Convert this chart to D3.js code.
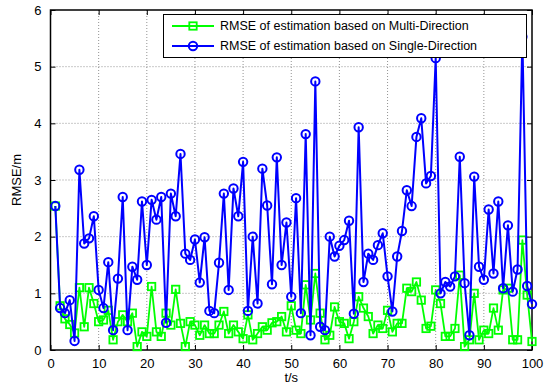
<!DOCTYPE html>
<html>
<head>
<meta charset="utf-8">
<script src="https://cdn.jsdelivr.net/npm/d3@7"></script>
<style>
  body { margin: 0; background: #fff; }
  text { font-family: "Liberation Sans", Arial, sans-serif; }
</style>
</head>
<body>
<div id="rmseContainer"></div>
<script>

// time axis (s)
var timeSteps = d3.range(1, 101);

// RMSE of estimation based on Single-Direction (blue, circles)
var singleDirRmse = [
  2.54, 0.74, 0.65, 0.88, 0.16, 3.18, 1.88, 1.97, 2.36, 1.06,
  0.74, 1.55, 0.35, 1.26, 2.70, 0.35, 1.47, 1.24, 2.62, 1.50,
  2.65, 2.30, 2.70, 0.48, 2.76, 2.36, 3.46, 1.70, 1.59, 1.95,
  1.19, 1.99, 0.69, 0.65, 1.54, 2.76, 1.06, 2.85, 2.36, 3.32,
  0.69, 2.00, 0.82, 3.20, 2.55, 1.16, 3.40, 1.50, 2.25, 0.94,
  2.68, 0.65, 3.81, 0.26, 4.74, 0.41, 0.35, 2.00, 1.65, 1.84,
  1.94, 2.28, 0.64, 3.93, 1.20, 1.70, 1.59, 1.85, 2.06, 1.30,
  0.68, 1.65, 2.10, 2.82, 2.54, 3.76, 4.09, 2.94, 3.07, 5.15,
  1.00, 1.20, 1.12, 1.30, 3.41, 1.18, 0.26, 3.06, 1.47, 1.24,
  2.48, 1.35, 2.62, 1.09, 2.20, 1.03, 1.42, 5.53, 1.13, 0.81
];

// RMSE of estimation based on Multi-Direction (green, squares)
var multiDirRmse = [
  2.54, 0.78, 0.55, 0.45, 0.30, 1.10, 0.41, 1.10, 0.82, 0.50,
  0.53, 0.70, 0.18, 0.50, 0.62, 0.50, 0.65, 0.06, 0.32, 0.24,
  1.12, 0.32, 0.24, 0.65, 0.44, 1.07, 0.47, 0.06, 0.50, 0.44,
  0.26, 0.44, 0.29, 0.29, 0.44, 0.68, 0.29, 0.44, 0.32, 0.20,
  0.62, 0.18, 0.29, 0.41, 0.35, 0.48, 0.50, 0.59, 0.32, 0.78,
  0.35, 0.29, 1.15, 0.53, 1.35, 0.65, 0.18, 0.26, 0.76, 0.50,
  0.47, 0.20, 0.50, 0.94, 0.74, 0.59, 0.29, 0.44, 0.38, 0.70,
  0.32, 0.47, 0.47, 1.09, 1.03, 1.20, 0.88, 0.38, 0.42, 1.06,
  0.82, 0.24, 0.24, 0.38, 1.32, 0.06, 0.18, 1.00, 0.18, 0.35,
  0.29, 0.74, 0.35, 1.06, 1.09, 0.18, 0.18, 1.94, 0.97, 0.15
];

var xTicks = [0, 10, 20, 30, 40, 50, 60, 70, 80, 90, 100];
var yTicks = [0, 1, 2, 3, 4, 5, 6];

var legendLabels = [
  "RMSE of estimation based on Multi-Direction",
  "RMSE of estimation based on Single-Direction"
];

var rmseConfig = {
  w: 550,
  h: 387,
  left: 50.5,
  right: 532,
  top: 10,
  bot: 350,
}

var svg = d3.select("#rmseContainer").append("svg")
  .attr("width", rmseConfig.w)
  .attr("height", rmseConfig.h);

var x = d3.scaleLinear()
  .domain([0, 100])
  .range([rmseConfig.left, rmseConfig.right]);

var y = d3.scaleLinear()
  .domain([0, 6])
  .range([rmseConfig.bot, rmseConfig.top]);

// grid (MATLAB style dotted)
var grid = svg.append("g").attr("class", "grid");

grid.selectAll(".vgrid")
  .data(xTicks.slice(1, -1))
  .enter().append("line")
  .attr("x1", function(d) { return x(d); })
  .attr("x2", function(d) { return x(d); })
  .attr("y1", rmseConfig.top)
  .attr("y2", rmseConfig.bot)
  .style("stroke", "#777")
  .style("stroke-width", 0.8)
  .style("stroke-dasharray", "1,2");

grid.selectAll(".hgrid")
  .data(yTicks.slice(1, -1))
  .enter().append("line")
  .attr("x1", rmseConfig.left)
  .attr("x2", rmseConfig.right)
  .attr("y1", function(d) { return y(d); })
  .attr("y2", function(d) { return y(d); })
  .style("stroke", "#777")
  .style("stroke-width", 0.8)
  .style("stroke-dasharray", "1,2");

// axes
var xAxis = svg.append("g")
  .attr("transform", "translate(0," + rmseConfig.bot + ")")
  .call(d3.axisBottom(x).tickValues(xTicks).tickFormat(d3.format("d"))
    .tickSizeInner(-5).tickSizeOuter(0).tickPadding(9));

var yAxis = svg.append("g")
  .attr("transform", "translate(" + rmseConfig.left + ",0)")
  .call(d3.axisLeft(y).tickValues(yTicks).tickFormat(d3.format("d"))
    .tickSizeInner(-5).tickSizeOuter(0).tickPadding(9));

var xAxisTop = svg.append("g")
  .attr("transform", "translate(0," + rmseConfig.top + ")")
  .call(d3.axisTop(x).tickValues(xTicks).tickSizeInner(-5).tickSizeOuter(0).tickFormat(""));

var yAxisRight = svg.append("g")
  .attr("transform", "translate(" + rmseConfig.right + ",0)")
  .call(d3.axisRight(y).tickValues(yTicks).tickSizeInner(-5).tickSizeOuter(0).tickFormat(""));

[xAxis, yAxis, xAxisTop, yAxisRight].forEach(function(a) {
  a.select(".domain").remove();
  a.selectAll("line").style("stroke", "#000");
  a.selectAll("text")
    .style("font-size", "13px")
    .style("fill", "#000");
});

// box
svg.append("rect")
  .attr("x", rmseConfig.left)
  .attr("y", rmseConfig.top)
  .attr("width", rmseConfig.right - rmseConfig.left)
  .attr("height", rmseConfig.bot - rmseConfig.top)
  .style("fill", "none")
  .style("stroke", "#000")
  .style("stroke-width", 1.5);

// axis labels
svg.append("text")
  .attr("x", (rmseConfig.left + rmseConfig.right) / 2)
  .attr("y", 382)
  .attr("text-anchor", "middle")
  .style("font-size", "13px")
  .text("t/s");

svg.append("text")
  .attr("transform", "translate(21," + (rmseConfig.top + rmseConfig.bot) / 2 + ") rotate(-90)")
  .attr("text-anchor", "middle")
  .style("font-size", "13px")
  .text("RMSE/m");

// series
var series = [
  {name: legendLabels[0], values: multiDirRmse, color: "#00ff00", marker: "square"},
  {name: legendLabels[1], values: singleDirRmse, color: "#0000ff", marker: "circle"}
];

var line = d3.line()
  .x(function(d, i) { return x(timeSteps[i]); })
  .y(function(d) { return y(d); });

function drawMarker(g, type, color) {
  if (type == "square") {
    g.append("rect")
      .attr("x", -3.7).attr("y", -3.7)
      .attr("width", 7.4).attr("height", 7.4)
      .style("fill", "none")
      .style("stroke", color)
      .style("stroke-width", 1.8);
  } else {
    g.append("circle")
      .attr("r", 4.2)
      .style("fill", "none")
      .style("stroke", color)
      .style("stroke-width", 2);
  }
}

series.forEach(function(s) {
  var g = svg.append("g").attr("class", "series");

  g.append("path")
    .datum(s.values)
    .attr("d", line)
    .style("fill", "none")
    .style("stroke", s.color)
    .style("stroke-width", s.marker == "circle" ? 2 : 1.8)
    .style("stroke-linejoin", "round");

  g.selectAll(".pt")
    .data(s.values)
    .enter().append("g")
    .attr("class", "pt")
    .attr("transform", function(d, i) { return "translate(" + x(timeSteps[i]) + "," + y(d) + ")"; })
    .each(function() { drawMarker(d3.select(this), s.marker, s.color); });
});

// legend
var legend = svg.append("g").attr("class", "legend");

legend.append("rect")
  .attr("x", 163.5)
  .attr("y", 14.5)
  .attr("width", 363)
  .attr("height", 43)
  .style("fill", "#fff")
  .style("stroke", "#000")
  .style("stroke-width", 1);

var legendItems = legend.selectAll(".legend-item")
  .data(series)
  .enter().append("g")
  .attr("class", "legend-item")
  .attr("transform", function(d, i) { return "translate(172," + (26 + i * 20) + ")"; });

legendItems.append("line")
  .attr("x1", 0)
  .attr("x2", 42)
  .style("stroke", function(d) { return d.color; })
  .style("stroke-width", function(d) { return d.marker == "circle" ? 2 : 1.8; });

legendItems.each(function(d) {
  var m = d3.select(this).append("g").attr("transform", "translate(21,0)");
  drawMarker(m, d.marker, d.color);
});

legendItems.append("text")
  .attr("x", 48)
  .attr("dy", "0.35em")
  .style("font-size", "12.5px")
  .text(function(d) { return d.name; });

</script>
</body>
</html>
